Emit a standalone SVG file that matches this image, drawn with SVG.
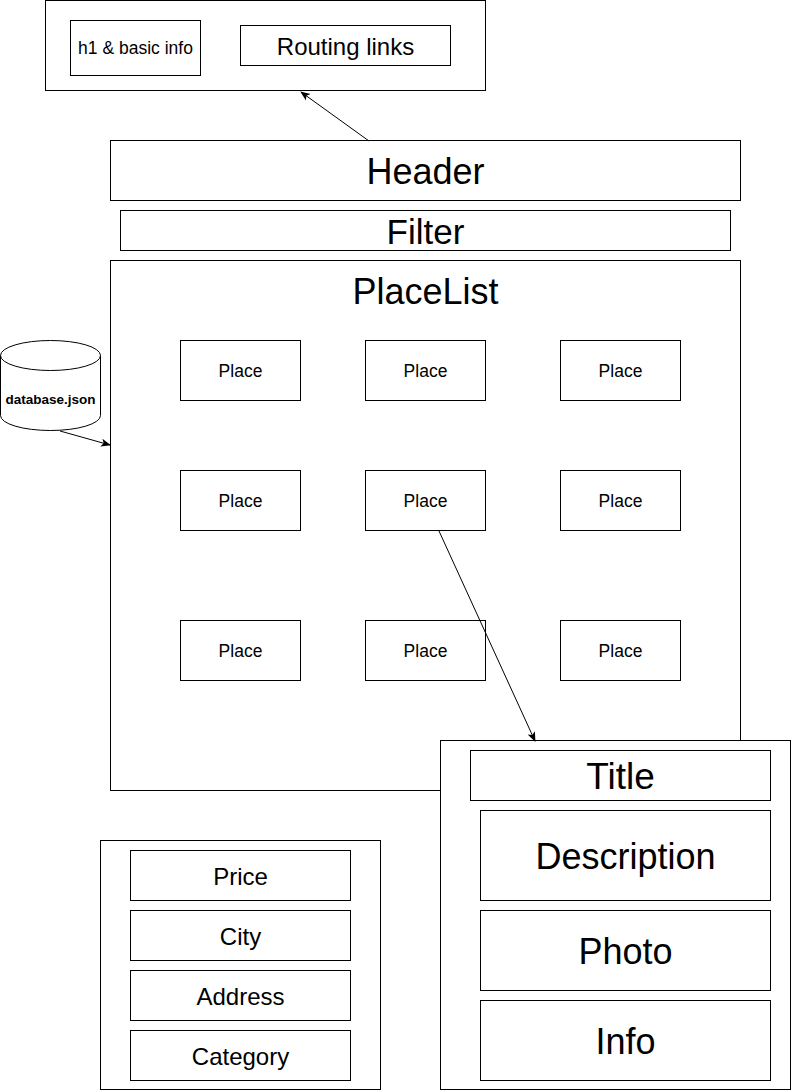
<svg xmlns="http://www.w3.org/2000/svg" width="792" height="1092" viewBox="0 0 792 1092">
  <style>
    rect { fill: #ffffff; stroke: #000000; stroke-width: 1; }
    text { font-family: "Liberation Sans", Arial, Helvetica, sans-serif; fill: #000000; text-anchor: middle; dominant-baseline: central; }
    .edge { stroke: #000000; stroke-width: 1; fill: none; marker-end: url(#arrow); }
    .place text { font-size: 17.5px; }
    .field { font-size: 24px; }
    .panel { font-size: 36px; }
  </style>
  <defs>
    <marker id="arrow" viewBox="0 0 10 10" refX="9" refY="5" markerWidth="10" markerHeight="10" markerUnits="userSpaceOnUse" orient="auto">
      <path d="M0,1 L10,5 L0,9 L2.5,5 Z" fill="#000000"/>
    </marker>
  </defs>

  <rect x="0" y="0" width="792" height="1092" style="stroke:none"/>

  <!-- top navigation bar -->
  <g id="nav">
    <rect x="45.5" y="0.5" width="440" height="90"/>
    <rect x="70.5" y="20.5" width="130" height="55"/>
    <text x="135.5" y="48" style="font-size:17.5px">h1 &amp; basic info</text>
    <rect x="240.5" y="25.5" width="210" height="40"/>
    <text x="345.5" y="46" style="font-size:24px">Routing links</text>
  </g>

  <g id="header">
    <rect x="110.5" y="140.5" width="630" height="60"/>
    <text x="425.5" y="171" style="font-size:36px">Header</text>
  </g>

  <g id="filter">
    <rect x="120.5" y="210.5" width="610" height="40"/>
    <text x="425.5" y="231" style="font-size:35px">Filter</text>
  </g>

  <g id="placelist">
    <rect x="110.5" y="260.5" width="630" height="530"/>
    <text x="425.5" y="291" style="font-size:36px">PlaceList</text>
  </g>

  <g id="place-1-1" class="place"><rect x="180.5" y="340.5" width="120" height="60"/><text x="240.5" y="370.5">Place</text></g>
  <g id="place-1-2" class="place"><rect x="365.5" y="340.5" width="120" height="60"/><text x="425.5" y="370.5">Place</text></g>
  <g id="place-1-3" class="place"><rect x="560.5" y="340.5" width="120" height="60"/><text x="620.5" y="370.5">Place</text></g>
  <g id="place-2-1" class="place"><rect x="180.5" y="470.5" width="120" height="60"/><text x="240.5" y="500.5">Place</text></g>
  <g id="place-2-2" class="place"><rect x="365.5" y="470.5" width="120" height="60"/><text x="425.5" y="500.5">Place</text></g>
  <g id="place-2-3" class="place"><rect x="560.5" y="470.5" width="120" height="60"/><text x="620.5" y="500.5">Place</text></g>
  <g id="place-3-1" class="place"><rect x="180.5" y="620.5" width="120" height="60"/><text x="240.5" y="650.5">Place</text></g>
  <g id="place-3-2" class="place"><rect x="365.5" y="620.5" width="120" height="60"/><text x="425.5" y="650.5">Place</text></g>
  <g id="place-3-3" class="place"><rect x="560.5" y="620.5" width="120" height="60"/><text x="620.5" y="650.5">Place</text></g>

  <g id="database">
    <path d="M0.5,355.5 A50,15 0 0 1 100.5,355.5 L100.5,415.5 A50,15 0 0 1 0.5,415.5 Z" fill="#ffffff" stroke="#000000"/>
    <path d="M0.5,355.5 A50,15 0 0 0 100.5,355.5" fill="none" stroke="#000000"/>
    <text x="50.5" y="399" style="font-size:13.5px;font-weight:bold">database.json</text>
  </g>

  <!-- place detail panel -->
  <g id="detail">
    <rect x="440.5" y="740.5" width="350" height="349"/>
    <rect x="470.5" y="750.5" width="300" height="50"/>
    <text x="620.5" y="776" style="font-size:37px">Title</text>
    <rect x="480.5" y="810.5" width="290" height="90"/>
    <text x="625.5" y="856" class="panel">Description</text>
    <rect x="480.5" y="910.5" width="290" height="80"/>
    <text x="625.5" y="951" class="panel">Photo</text>
    <rect x="480.5" y="1000.5" width="290" height="80"/>
    <text x="625.5" y="1041" class="panel">Info</text>
  </g>

  <!-- filter fields -->
  <g id="fields">
    <rect x="100.5" y="840.5" width="280" height="249"/>
    <rect x="130.5" y="850.5" width="220" height="50"/>
    <text x="240.5" y="876" class="field">Price</text>
    <rect x="130.5" y="910.5" width="220" height="50"/>
    <text x="240.5" y="936" class="field">City</text>
    <rect x="130.5" y="970.5" width="220" height="50"/>
    <text x="240.5" y="996" class="field">Address</text>
    <rect x="130.5" y="1030.5" width="220" height="50"/>
    <text x="240.5" y="1056" class="field">Category</text>
  </g>

  <g id="connectors">
    <line class="edge" x1="369" y1="141" x2="301" y2="92"/>
    <line class="edge" x1="60" y1="431" x2="110" y2="445"/>
    <line class="edge" x1="439" y1="531" x2="535" y2="741"/>
  </g>
</svg>
